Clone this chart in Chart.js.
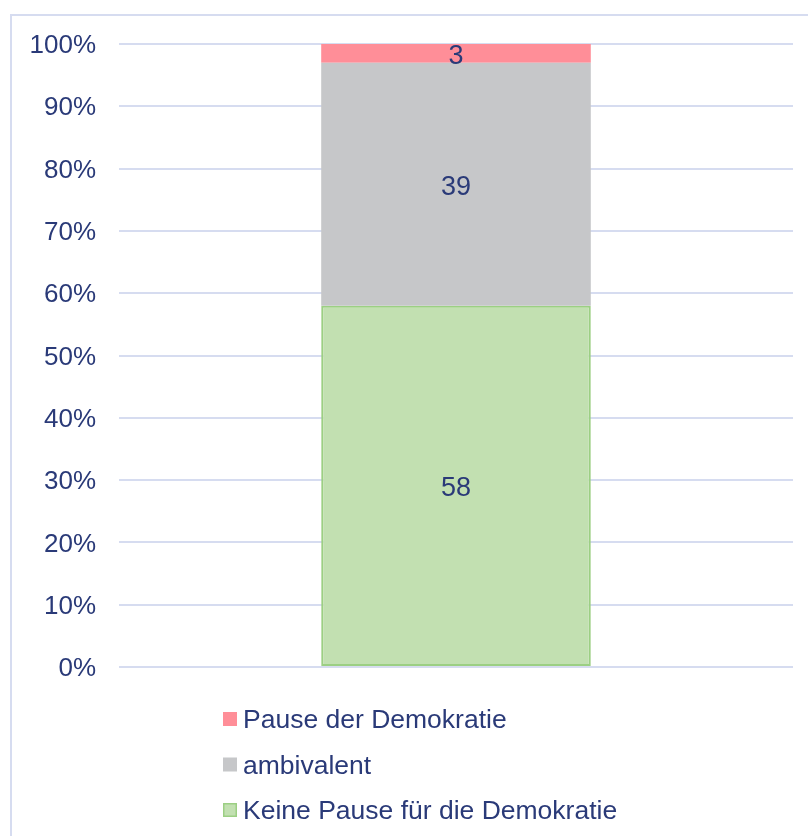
<!DOCTYPE html>
<html lang="de">

<head>
    <meta charset="UTF-8">
    <title>Pause der Demokratie</title>
    <script src="https://cdn.jsdelivr.net/npm/chart.js"></script>
    <style>
        body {
            margin: 0;
            background-color: #ffffff;
            overflow: hidden;
        }

        .frame {
            position: absolute;
            left: 10px;
            top: 14px;
            width: 900px;
            height: 900px;
            border: 2px solid #d6dcf0;
        }

        .wrap {
            position: absolute;
            left: 0;
            top: 0;
            width: 808px;
            height: 836px;
        }
    </style>
</head>

<body>
    <div class="frame"></div>
    <div class="wrap">
        <canvas id="chart" width="808" height="836"></canvas>
    </div>

    <script>
        // Data
        const categories = [''];
        const seriesNames = ['Keine Pause für die Demokratie', 'ambivalent', 'Pause der Demokratie'];
        const keinePause = [58];
        const ambivalent = [39];
        const pause = [3];
        const yTicks = [0, 10, 20, 30, 40, 50, 60, 70, 80, 90, 100];

        const textColor = '#2a3a78';
        const fontFamily = '"Liberation Sans", Arial, sans-serif';

        // Value labels in the middle of each segment
        const segmentLabels = {
            id: 'segmentLabels',
            afterDatasetsDraw(chart) {
                const ctx = chart.ctx;
                ctx.save();
                ctx.fillStyle = textColor;
                ctx.font = '27px ' + fontFamily;
                ctx.textAlign = 'center';
                ctx.textBaseline = 'middle';
                chart.data.datasets.forEach((ds, i) => {
                    chart.getDatasetMeta(i).data.forEach((bar, j) => {
                        const mid = (bar.y + bar.base) / 2;
                        ctx.fillText(String(ds.data[j]), bar.x, mid + 3);
                    });
                });
                ctx.restore();
            }
        };

        // Vertical legend, left aligned, last series on top
        const stackLegend = {
            id: 'stackLegend',
            afterDraw(chart) {
                const ctx = chart.ctx;
                const x = 223;
                let y = 719;
                ctx.save();
                ctx.font = '26.5px ' + fontFamily;
                ctx.textBaseline = 'middle';
                ctx.textAlign = 'left';
                chart.data.datasets.slice().reverse().forEach(ds => {
                    ctx.fillStyle = ds.backgroundColor;
                    ctx.fillRect(x, y - 7, 14, 14);
                    if (ds.borderWidth) {
                        ctx.strokeStyle = ds.borderColor;
                        ctx.lineWidth = 1.5;
                        ctx.strokeRect(x + 0.75, y - 6.25, 12.5, 12.5);
                    }
                    ctx.fillStyle = textColor;
                    ctx.fillText(ds.label, x + 20, y + 2);
                    y += 45.5;
                });
                ctx.restore();
            }
        };

        const ctx = document.getElementById('chart').getContext('2d');
        new Chart(ctx, {
            type: 'bar',
            data: {
                labels: categories,
                datasets: [{
                    label: seriesNames[0],
                    data: keinePause,
                    backgroundColor: '#c2e0b1',
                    borderColor: '#9ccf83',
                    borderWidth: 2,
                    borderSkipped: false
                }, {
                    label: seriesNames[1],
                    data: ambivalent,
                    backgroundColor: '#c6c7c9',
                    borderWidth: 0
                }, {
                    label: seriesNames[2],
                    data: pause,
                    backgroundColor: '#ff8e98',
                    borderWidth: 0
                }]
            },
            options: {
                responsive: false,
                animation: false,
                barPercentage: 0.4,
                categoryPercentage: 1,
                layout: {
                    padding: { left: 0, right: 15, top: 44, bottom: 169 }
                },
                plugins: {
                    legend: { display: false },
                    tooltip: { enabled: false }
                },
                scales: {
                    x: {
                        stacked: true,
                        display: false
                    },
                    y: {
                        stacked: true,
                        min: 0,
                        max: 100,
                        afterFit(scale) { scale.width = 119; },
                        afterBuildTicks(scale) {
                            scale.ticks = yTicks.map(v => ({ value: v }));
                        },
                        border: { display: false },
                        grid: {
                            color: '#d6dcf0',
                            lineWidth: 2,
                            drawTicks: false
                        },
                        ticks: {
                            padding: 23,
                            labelOffset: 2,
                            color: textColor,
                            font: { family: fontFamily, size: 26 },
                            callback: v => v + '%'
                        }
                    }
                }
            },
            plugins: [segmentLabels, stackLegend]
        });
    </script>
</body>

</html>
